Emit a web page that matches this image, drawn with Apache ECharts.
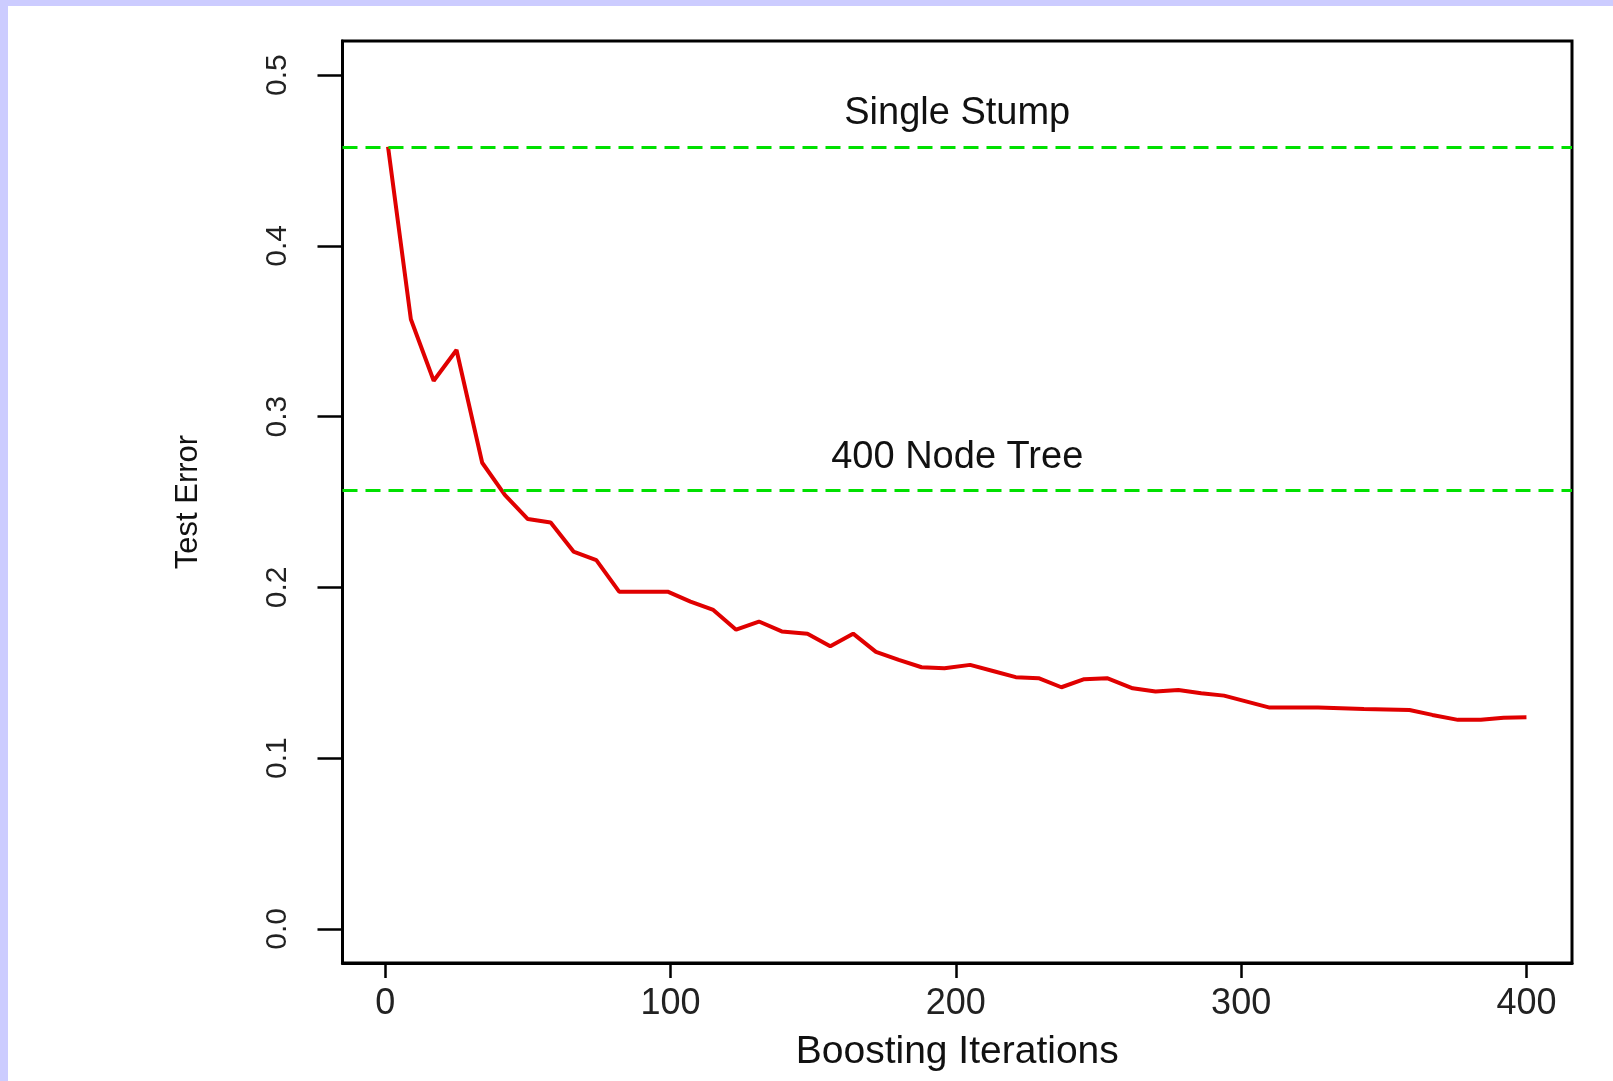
<!DOCTYPE html>
<html>
<head>
<meta charset="utf-8">
<title>Boosting test error</title>
<script src="https://cdn.jsdelivr.net/npm/echarts/dist/echarts.min.js"></script>
<style>
  html, body { margin: 0; padding: 0; background: #ccccff; }
  #main { position: absolute; left: 8px; top: 6px; width: 1605px; height: 1075px; background: #fff; }
</style>
</head>
<body>
<div id="main"></div>
<script>
// boosting iterations (x) and test error of the boosted stumps (y)
var iterations = [1, 9, 17, 25, 34, 42, 50, 58, 66, 74, 82, 91, 99, 107, 115, 123, 131, 139, 148, 156,
  164, 172, 180, 188, 196, 205, 213, 221, 229, 237, 245, 253, 262, 270, 278, 286, 294, 302, 310, 319,
  327, 335, 343, 351, 359, 367, 376, 384, 392, 400];
var testError = [0.458, 0.357, 0.321, 0.339, 0.273, 0.254, 0.240, 0.238, 0.221, 0.216,
  0.1975, 0.1975, 0.1975, 0.1917, 0.1868, 0.1752, 0.180, 0.1742, 0.1729, 0.1655,
  0.1729, 0.1622, 0.1575, 0.1532, 0.1526, 0.1546, 0.151, 0.1474, 0.1468, 0.1415,
  0.1462, 0.1468, 0.1409, 0.139, 0.1399, 0.138, 0.1366, 0.1331, 0.1296, 0.1296,
  0.1296, 0.1292, 0.1288, 0.1285, 0.1282, 0.1253, 0.1224, 0.1224, 0.1236, 0.1239];

// reference errors (dashed lines)
var refNames = ['Single Stump', '400 Node Tree'];
var refErrors = [0.458, 0.257];

var xTicks = [0, 100, 200, 300, 400];
var yTicks = [0, 0.1, 0.2, 0.3, 0.4, 0.5];

var font = 'Liberation Sans, Arial, Helvetica, sans-serif';

var chart = echarts.init(document.getElementById('main'));
chart.setOption({
  animation: false,
  backgroundColor: '#fff',
  grid: {
    left: 334.5,
    right: 41,
    top: 35,
    bottom: 118,
    show: true,
    borderColor: '#000',
    borderWidth: 3
  },
  xAxis: {
    type: 'value',
    min: -14.96,
    max: 415.96,
    name: 'Boosting Iterations',
    nameLocation: 'middle',
    nameGap: 70,
    nameTextStyle: { fontFamily: font, fontSize: 39, color: '#111' },
    axisLine: { onZero: false, lineStyle: { color: '#000', width: 3 } },
    axisTick: { customValues: xTicks, length: 15, lineStyle: { color: '#000', width: 2.5 } },
    axisLabel: { customValues: xTicks, margin: 23, fontFamily: font, fontSize: 36, color: '#222' },
    splitLine: { show: false }
  },
  yAxis: {
    type: 'value',
    min: -0.02,
    max: 0.52,
    name: 'Test Error',
    nameLocation: 'middle',
    nameGap: 139,
    nameTextStyle: { fontFamily: font, fontSize: 31, color: '#111' },
    axisLine: { onZero: false, lineStyle: { color: '#000', width: 3 } },
    axisTick: { customValues: yTicks, length: 25, lineStyle: { color: '#000', width: 2.5 } },
    axisLabel: {
      customValues: yTicks,
      rotate: 90,
      margin: 50,
      fontFamily: font,
      fontSize: 30,
      color: '#222',
      formatter: function (v) { return v.toFixed(1); }
    },
    splitLine: { show: false }
  },
  series: [{
    name: 'Boosting',
    type: 'line',
    data: iterations.map(function (x, i) { return [x, testError[i]]; }),
    symbol: 'none',
    lineStyle: { color: '#e00000', width: 4 },
    markLine: {
      silent: true,
      symbol: 'none',
      precision: 3,
      lineStyle: { color: '#00e000', width: 3, type: [15, 8] },
      label: {
        position: 'insideMiddleTop',
        distance: 14,
        fontFamily: font,
        fontSize: 38,
        color: '#111'
      },
      data: refErrors.map(function (v, i) {
        return { yAxis: v, label: { formatter: refNames[i] } };
      })
    }
  }]
});
window.addEventListener('resize', chart.resize);
</script>
</body>
</html>
